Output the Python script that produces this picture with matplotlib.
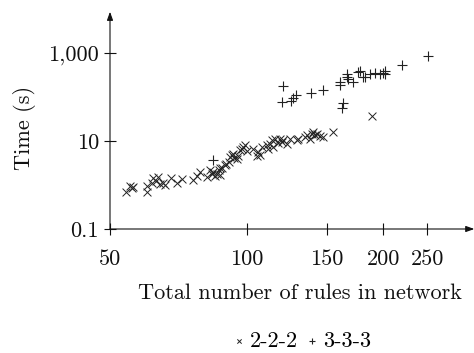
import matplotlib
matplotlib.use("Agg")
import matplotlib.pyplot as plt

# 2-2-2 series (x marks)
x222 = [54.2, 55.3, 56.0, 56.3, 60.2, 60.2, 61.8, 62.3, 63.1, 63.9, 64.4, 65.5, 66.1,
        68.1, 70.1, 71.9, 76.3, 77.6, 78.9, 81.6, 83.0, 83.7, 84.4, 85.1, 85.9, 87.1,
        87.4, 88.1, 89.6, 91.2, 91.9, 92.7, 93.5, 95.1, 95.9, 96.7, 97.5, 98.3, 99.2,
        103.5, 105.2, 107.0, 108.0, 110.7, 111.6, 112.5, 113.5, 114.4, 115.4, 118.4,
        119.4, 120.4, 122.5, 124.6, 128.8, 134.4, 135.5, 137.9, 139.0, 140.2, 141.4,
        142.6, 147.5, 154.7, 188.5, 87.4, 90.0, 94.0, 100.0, 106.0, 117.0, 130.0, 145.0]
y222 = [0.70, 0.94, 0.84, 0.88, 0.68, 0.94, 1.12, 1.46, 1.25, 1.54, 1.05, 1.09, 1.00,
        1.41, 1.12, 1.34, 1.29, 1.59, 2.0, 1.54, 2.18, 1.77, 2.0, 1.62, 1.83, 2.18,
        1.68, 2.38, 2.83, 3.36, 4.37, 4.77, 5.2, 4.0, 4.5, 6.2, 6.7, 7.4, 8.0,
        6.7, 4.5, 4.77, 7.4, 8.0, 6.7, 8.8, 10.4, 7.4, 11.4, 11.4,
        9.6, 10.4, 8.8, 11.4, 10.4, 12.4, 13.5, 11.4, 14.8, 16.1, 13.5,
        14.8, 12.4, 16.1, 36.5, 2.5, 3.0, 4.2, 6.0, 5.5, 9.0, 11.0, 13.0]

# 3-3-3 series (plus marks)
x333 = [84.4, 119.4, 120.0, 125.0, 126.7, 128.4, 138.3, 147.0, 160.6, 160.6, 162.8,
        161.9, 166.1, 166.6, 167.5, 171.8, 176.2, 177.7, 180.7, 182.3, 186.9, 191.7,
        196.6, 200.0, 201.7, 201.7, 220.3, 250.5]
y333 = [3.8, 77, 175, 80, 95, 109, 126, 147, 184, 219, 73,
        57, 285, 339, 261, 219, 370, 389, 294, 294, 327, 351,
        327, 351, 403, 327, 551, 883]

xticks = [50, 100, 150, 200, 250]
xticklabels = ["50", "100", "150", "200", "250"]
yticks = [0.1, 10, 1000]
yticklabels = ["0.1", "10", "1,000"]

plt.rcParams['font.family'] = ['cmr10', 'DejaVu Serif']
plt.rcParams['axes.unicode_minus'] = False
plt.rcParams['mathtext.fontset'] = 'cm'

W, H = 474, 353
FS = 16
fig = plt.figure(figsize=(W / 100, H / 100), dpi=100)
left, right, bottom, top = 110, 462, 229, 16
ax = fig.add_axes([left / W, 1 - bottom / H, (right - left) / W, (bottom - top) / H])
ax.set_xscale('log')
ax.set_yscale('log')
ax.set_xlim(50, 298)
ax.set_ylim(0.1, 7000)

col = '#222222'
ax.scatter(x222, y222, marker='x', s=32, linewidths=0.7, color=col, label='2-2-2', zorder=3)
ax.scatter(x333, y333, marker='+', s=60, linewidths=0.8, color=col, label='3-3-3', zorder=3)

for s in ax.spines.values():
    s.set_visible(False)
ax.annotate('', xy=(1.035, 0), xytext=(0, 0), xycoords='axes fraction',
            arrowprops=dict(arrowstyle='-|>,head_length=0.5,head_width=0.18', color='#111111', lw=0.8,
                            shrinkA=0, shrinkB=0))
ax.annotate('', xy=(0, 1.02), xytext=(0, 0), xycoords='axes fraction',
            arrowprops=dict(arrowstyle='-|>,head_length=0.5,head_width=0.18', color='#111111', lw=0.8,
                            shrinkA=0, shrinkB=0))

ax.xaxis.set_major_locator(matplotlib.ticker.FixedLocator(xticks))
ax.xaxis.set_major_formatter(matplotlib.ticker.FixedFormatter(xticklabels))
ax.xaxis.set_minor_locator(matplotlib.ticker.NullLocator())
ax.yaxis.set_major_locator(matplotlib.ticker.FixedLocator(yticks))
ax.yaxis.set_major_formatter(matplotlib.ticker.FixedFormatter(yticklabels))
ax.yaxis.set_minor_locator(matplotlib.ticker.NullLocator())
ax.tick_params(axis='both', direction='inout', length=8, width=0.8, color='#111111',
               labelsize=FS, labelcolor='#111111')
ax.tick_params(axis='x', pad=11)
ax.tick_params(axis='y', pad=4)

ax.set_xlabel('Total number of rules in network', fontsize=FS, color='#111111')
ax.xaxis.set_label_coords((300 - left) / (right - left), -(293 - bottom) / (bottom - top), transform=ax.transAxes)
ax.xaxis.label.set_va('center')
ax.set_ylabel('Time (s)', fontsize=FS, color='#111111')
ax.yaxis.set_label_coords(-(left - 25) / (right - left), (bottom - 128) / (bottom - top), transform=ax.transAxes)
ax.yaxis.label.set_va('center')

leg = fig.legend(loc='center', bbox_to_anchor=(299 / W, 1 - 341 / H), ncol=2, frameon=False,
                 fontsize=FS, handletextpad=-0.05, columnspacing=0.05, markerscale=0.55,
                 handlelength=1.1, borderpad=0)

fig.savefig('out.png', dpi=100)
